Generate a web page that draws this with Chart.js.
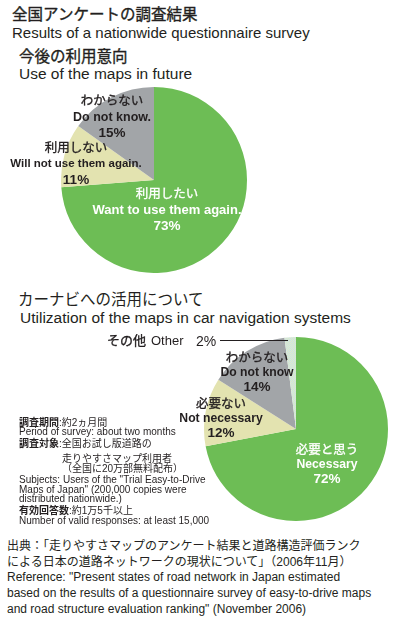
<!DOCTYPE html>
<html lang="ja">

<head>
    <meta charset="UTF-8">
    <title>全国アンケートの調査結果</title>
    <script src="https://cdn.jsdelivr.net/npm/chart.js"></script>
    <style>
        body {
            margin: 0;
            background: #fff;
            width: 396px;
            height: 622px;
            position: relative;
            overflow: hidden;
            font-family: "Liberation Sans", "Noto Sans CJK JP", sans-serif;
            color: #231f20;
        }

        canvas {
            position: absolute;
        }

        .t {
            position: absolute;
            white-space: nowrap;
            line-height: 1.2;
        }

        .m {
            -webkit-text-stroke: 0.35px currentColor;
        }
    </style>
</head>

<body>
    <canvas id="useChart" width="186" height="186" style="left:61px;top:87px"></canvas>
    <canvas id="naviChart" width="184" height="184" style="left:204px;top:337px"></canvas>

    <script>
        // 今後の利用意向
        const useLabelsJa = ['利用したい', '利用しない', 'わからない'];
        const useLabelsEn = ['Want to use them again.', 'Will not use them again.', 'Do not know.'];
        const useValues = [73, 11, 15];

        // カーナビへの活用について
        const naviLabelsJa = ['必要と思う', '必要ない', 'わからない', 'その他'];
        const naviLabelsEn = ['Necessary', 'Not necessary', 'Do not know', 'Other'];
        const naviValues = [72, 12, 14, 2];

        const GREEN = '#6dbd55';
        const YELLOW = '#e3e3b0';
        const GRAY = '#a2a5a8';

        function dotted() {
            const c = document.createElement('canvas');
            c.width = 2;
            c.height = 2;
            const g = c.getContext('2d');
            g.fillStyle = '#c4e2ea';
            g.fillRect(0, 0, 2, 2);
            g.fillStyle = '#e6ebc2';
            g.fillRect(0, 0, 1, 1);
            g.fillRect(1, 1, 1, 1);
            return g.createPattern(c, 'repeat');
        }

        function pie(id, labels, values, colors) {
            return new Chart(document.getElementById(id), {
                type: 'pie',
                data: {
                    labels: labels,
                    datasets: [{
                        data: values,
                        backgroundColor: colors,
                        borderWidth: 0
                    }]
                },
                options: {
                    responsive: false,
                    animation: false,
                    layout: { padding: 0 },
                    plugins: {
                        legend: { display: false },
                        tooltip: { enabled: false }
                    }
                }
            });
        }

        pie('useChart', useLabelsJa, useValues, [GREEN, YELLOW, GRAY]);
        pie('naviChart', naviLabelsJa, naviValues, [GREEN, YELLOW, GRAY, dotted()]);

        // text helper: y is the vertical centre of the line
        function txt(html, x, y, size, opts) {
            opts = opts || {};
            const d = document.createElement('div');
            d.className = 't' + (opts.medium ? ' m' : '');
            d.innerHTML = html;
            d.style.left = x + 'px';
            d.style.top = y + 'px';
            d.style.fontSize = size + 'px';
            if (opts.bold) d.style.fontWeight = 'bold';
            if (opts.color) d.style.color = opts.color;
            d.style.transform = opts.center ? 'translate(-50%,-50%)' : 'translateY(-50%)';
            document.body.appendChild(d);
        }

        txt('全国アンケートの調査結果', 12, 15, 15.5, { medium: true });
        txt('Results of a nationwide questionnaire survey', 12, 33, 15);
        txt('今後の利用意向', 19, 57, 15.5, { medium: true });
        txt('Use of the maps in future', 19, 74, 15.5);

        // slice labels, pie 1 (index: [x, y, colour, english size])
        const usePos = [[167, 194, '#fff', 13], [76, 148, null, 11.5], [112, 101, null, 12.5]];
        usePos.forEach(function (p, i) {
            const c = p[2] || '#231f20';
            txt(useLabelsJa[i], p[0], p[1], 12.5, { medium: true, center: true, color: c });
            txt(useLabelsEn[i], p[0], p[1] + 16, p[3], { bold: true, center: true, color: c });
            txt(useValues[i] + '%', p[0], p[1] + 32, 13.5, { bold: true, center: true, color: c });
        });

        txt('カーナビへの活用について', 18, 300, 15.5);
        txt('Utilization of the maps in car navigation systems', 20, 318, 15.5);

        const naviPos = [[327, 450, '#fff'], [221, 404], [257, 358]];
        naviPos.forEach(function (p, i) {
            const c = p[2] || '#231f20';
            txt(naviLabelsJa[i], p[0], p[1], 12.5, { medium: true, center: true, color: c });
            txt(naviLabelsEn[i], p[0], p[1] + 14, 12.2, { bold: true, center: true, color: c });
            txt(naviValues[i] + '%', p[0], p[1] + 29, 13.5, { bold: true, center: true, color: c });
        });
        txt(naviLabelsJa[3], 107, 341, 13, { medium: true });
        txt(naviLabelsEn[3], 151, 341, 13);
        txt(naviValues[3] + '%', 196, 341, 14);
        const lead = document.createElement('div');
        lead.style.cssText = 'position:absolute;left:220px;top:340px;width:68px;height:1px;background:#231f20';
        document.body.appendChild(lead);

        // survey notes
        txt('<b>調査期間</b>:約2ヵ月間', 19, 423, 10);
        txt('Period of survey: about two months', 19, 432, 10);
        txt('<b>調査対象</b>:全国お試し版道路の', 19, 444, 10);
        txt('走りやすさマップ利用者', 62, 459, 10);
        txt('（全国に20万部無料配布）', 62, 469, 10);
        txt('Subjects: Users of the "Trial Easy-to-Drive', 19, 480, 10);
        txt('Maps of Japan" (200,000 copies were', 19, 490, 10);
        txt('distributed nationwide.)', 19, 499, 10);
        txt('<b>有効回答数</b>:約1万5千以上', 19, 511, 10);
        txt('Number of valid responses: at least 15,000', 19, 521, 10);

        // source
        txt('出典：「走りやすさマップのアンケート結果と道路構造評価ランク', 7, 546, 12);
        txt('による日本の道路ネットワークの現状について」（2006年11月）', 7, 562, 12);
        txt('Reference: "Present states of road network in Japan estimated', 7, 577, 12);
        txt('based on the results of a questionnaire survey of easy-to-drive maps', 7, 593, 12);
        txt('and road structure evaluation ranking" (November 2006)', 7, 609, 12);
    </script>
</body>

</html>
